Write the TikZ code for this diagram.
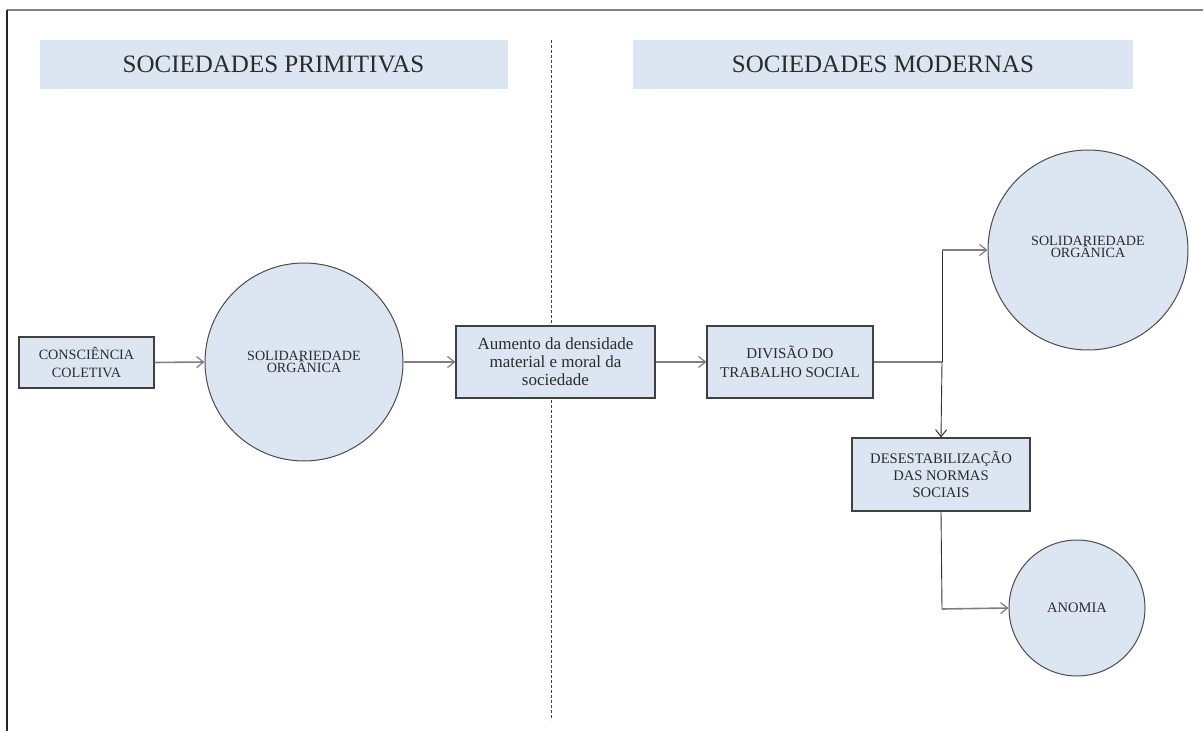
\documentclass[tikz,border=0pt]{standalone}
\usepackage{fontspec}
\setmainfont{Liberation Serif}
\usetikzlibrary{arrows.meta}
\definecolor{boxblue}{HTML}{DCE6F2}
\definecolor{hdrblue}{HTML}{DCE6F2}
\definecolor{linegray}{HTML}{7F7F7F}
\definecolor{txt}{HTML}{2B2B2B}
\begin{document}
\begin{tikzpicture}[x=1pt,y=-1pt,
  hdr/.style={fill=hdrblue,draw=none,inner sep=0pt,minimum height=49pt,text=txt,font=\fontsize{25}{27}\selectfont},
  box/.style={rectangle,fill=boxblue,draw=black!75,line width=1.1pt,inner sep=2pt,align=center,text=txt},
  roundnode/.style={circle,fill=boxblue,draw=black!70,line width=1pt,inner sep=0pt,align=center,text=txt},
  conn/.style={draw=linegray,line width=1.6pt,-{Straight Barb[length=7pt,width=11pt,line width=1.2pt]}},
  plain/.style={draw=linegray,line width=1.6pt},
  vline/.style={draw=black!80,line width=0.9pt}
]
\useasboundingbox (0,0) rectangle (1203,731);
% frame
\draw[draw=black!50,line width=2.2pt] (7,10) -- (1203,10);
\draw[draw=black!85,line width=1.2pt] (7,10) -- (7,731);
% divider
\draw[draw=black!75,line width=0.8pt,dash pattern=on 3pt off 2pt] (551,40) -- (551,720);
% headers
\node[hdr,minimum width=468pt] (h1) at (273.5,64.5) {SOCIEDADES PRIMITIVAS};
\node[hdr,minimum width=500pt] (h2) at (883,64.5) {SOCIEDADES MODERNAS};
% nodes
\node[box,minimum width=135pt,minimum height=51pt,font=\fontsize{14.2}{17.5}\selectfont] (cc) at (86.5,362.5) {CONSCIÊNCIA\\COLETIVA};
\node[roundnode,minimum size=198pt,font=\fontsize{14.1}{12.5}\selectfont] (s1) at (304,362) {SOLIDARIEDADE\\ORGÂNICA};
\node[box,minimum width=199pt,minimum height=72pt,font=\fontsize{17}{18}\selectfont] (aum) at (555.5,362) {Aumento da densidade\\material e moral da\\sociedade};
\node[box,minimum width=166pt,minimum height=72pt,font=\fontsize{15}{19}\selectfont] (div) at (790,362) {DIVISÃO DO\\TRABALHO SOCIAL};
\node[roundnode,minimum size=200pt] (s2) at (1088,250) {};
\node[text=txt,align=center,font=\fontsize{14.1}{12.5}\selectfont] (s2t) at (1088,247) {SOLIDARIEDADE\\ORGÂNICA};
\node[box,minimum width=178pt,minimum height=73pt,font=\fontsize{14.6}{17}\selectfont] (des) at (941,474.5) {DESESTABILIZAÇÃO\\DAS NORMAS\\SOCIAIS};
\node[roundnode,minimum size=136pt,font=\fontsize{14.5}{16}\selectfont] (an) at (1077,608) {ANOMIA};
% coordinates
\coordinate (j) at (942,362);
\coordinate (jt) at (942,250);
\coordinate (k) at (942,609);
% connectors
\draw[conn] (cc.east) -- (s1.west);
\draw[conn] (s1.east) -- (aum.west);
\draw[conn] (aum.east) -- (div.west);
\draw[plain] (div.east) -- (j);
\draw[vline] (jt) -- (j);
\draw[conn] (jt) -- (s2.west);
\draw[vline,-{Straight Barb[length=7pt,width=11pt,line width=1pt]}] (j) -- (des.north);
\draw[vline] (des.south) -- (k);
\draw[conn] (k) -- (an.west);
\end{tikzpicture}
\end{document}
